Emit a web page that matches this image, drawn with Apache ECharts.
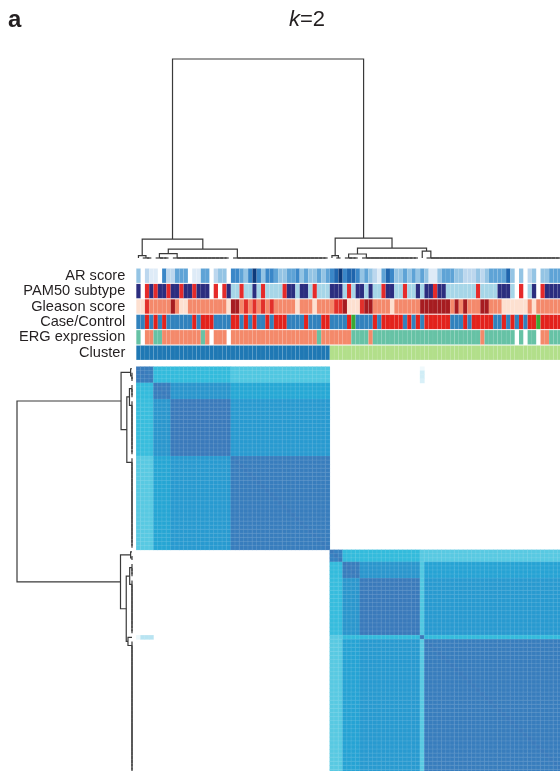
<!DOCTYPE html>
<html><head><meta charset="utf-8">
<script src="https://cdn.jsdelivr.net/npm/echarts@6/dist/echarts.min.js"></script>
<style>html,body{margin:0;padding:0;background:#fff;overflow:hidden}#c{width:600px;height:800px}</style>
</head><body><div id="c"></div>
<script>
// ---------------- DATA ----------------
const sampleCount = 100; // samples visible in the (cropped) panel
const trackNames = ['AR score','PAM50 subtype','Gleason score','Case/Control','ERG expression','Cluster'];

// AR score level (0 = missing/white ... 7 = highest)
const arScore = [
 3,0,2,1,1,0,5,2,2,4, 4,4,0,1,1,4,4,0,2,3, 3,0,5,5,4,3,5,7,5,3, 5,5,4,3,3,4,4,5,3,4,
 3,3,4,3,4,5,6,7,5,6, 6,5,3,4,3,2,1,4,6,5, 3,3,4,3,4,3,4,3,1,1, 3,4,4,4,3,3,2,2,2,3,
 2,3,4,4,4,4,6,3,0,3, 0,2,3,0,3,3,4,4,4,3];
// PAM50 subtype: 0 missing, 1 LumA (navy), 2 Basal (red), 3 LumB (light blue)
const pam50 = [
 1,0,2,1,2,1,1,2,1,1, 2,1,1,2,1,1,1,0,2,0, 2,1,3,3,2,3,3,1,3,2, 3,3,3,3,2,1,1,3,1,1,
 3,2,3,3,3,1,1,1,3,2, 3,1,1,3,1,3,3,2,1,1, 3,3,2,3,3,1,3,1,1,2, 1,1,3,3,3,3,3,3,3,2,
 3,3,3,3,1,1,1,3,0,2, 0,3,1,0,2,1,1,1,1,1];
// Gleason: 1 (<=6), 2 (7), 3 (8), 4 (>=9)
const gleason = [
 1,1,3,2,2,2,2,2,4,2, 1,1,2,2,2,2,2,2,2,2, 2,1,4,4,2,3,2,3,2,3, 2,3,2,2,2,2,2,1,2,2,
 2,1,2,2,2,2,3,3,4,1, 1,1,3,4,4,2,2,2,2,1, 2,2,2,2,2,2,4,4,4,4, 4,4,4,2,4,2,4,2,2,2,
 4,4,2,2,2,1,1,1,1,1, 1,2,1,2,2,2,2,2,2,2];
// Case/Control: 1 control (blue), 2 case (red), 3 other (green)
const caseControl = [
 1,1,2,1,2,1,2,1,1,1, 1,1,1,2,1,2,2,2,1,1, 1,1,2,2,1,2,1,2,1,1, 2,1,2,2,2,1,1,1,1,2,
 1,1,1,2,2,1,1,1,1,2, 3,1,1,1,1,2,1,2,2,2, 2,2,1,2,1,2,1,2,2,2, 2,2,2,1,1,1,2,1,2,2,
 2,2,2,1,1,2,1,2,1,2, 1,2,2,3,2,2,2,2,2,2];
// ERG: 0 missing, 1 negative (salmon), 2 positive (teal)
const ergExpression = [
 2,0,1,1,2,2,1,1,1,1, 1,1,1,1,1,2,1,0,1,1, 1,0,1,1,1,1,1,1,1,1, 1,1,1,1,1,1,1,1,1,1,
 1,1,2,1,1,1,1,1,1,1, 2,2,2,2,1,2,2,2,2,2, 2,2,2,2,2,2,2,2,2,2, 2,2,2,2,2,2,2,2,2,2,
 1,2,2,2,2,2,2,2,0,2, 0,2,2,0,1,1,2,2,2,2];
// Consensus cluster (k = 2)
const clusterOf = [
 1,1,1,1,1,1,1,1,1,1, 1,1,1,1,1,1,1,1,1,1, 1,1,1,1,1,1,1,1,1,1, 1,1,1,1,1,1,1,1,1,1,
 1,1,1,1,1,2,2,2,2,2, 2,2,2,2,2,2,2,2,2,2, 2,2,2,2,2,2,2,2,2,2, 2,2,2,2,2,2,2,2,2,2,
 2,2,2,2,2,2,2,2,2,2, 2,2,2,2,2,2,2,2,2,2];

// Consensus matrix: sub-groups (in sample order) and block consensus values (row group x column group)
const consensusGroupSizes = [4,4,14,23, 3,4,14,1,33];
const consensusBlocks = [
 [0.88,0.56,0.56,0.47, 0,0,0,0,0],
 [0.56,0.88,0.74,0.66, 0,0,0,0,0],
 [0.54,0.74,0.90,0.72, 0,0,0,0,0],
 [0.45,0.67,0.72,0.88, 0,0,0,0,0],
 [0,0,0,0, 0.85,0.56,0.56,0.45,0.45],
 [0,0,0,0, 0.56,0.88,0.74,0.47,0.68],
 [0,0,0,0, 0.55,0.74,0.90,0.47,0.72],
 [0,0,0,0, 0.45,0.56,0.56,0.92,0.56],
 [0,0,0,0, 0.45,0.68,0.72,0.45,0.88]
];
// individual off-block consensus cells: [row sample, column sample, value]
const consensusExtra = [[66,0,0.06],[66,1,0.2],[66,2,0.2],[66,3,0.2],[0,66,0.05],[1,66,0.14],[2,66,0.14],[3,66,0.12]];

// Hierarchical clustering tree (merge heights, 1 = root); flat = leaves merged at height 0
const dendroTree = {h:1, c:[
  {h:0.095, c:[
    {h:0.012, c:[0, {flat:[1,3]}]},
    {h:0.045, c:[
      {h:0.022, c:[{flat:[4,7]}, {flat:[8,21]}]},
      {flat:[22,44]}
    ]}
  ]},
  {h:0.1, c:[
    {h:0.012, c:[45, {flat:[46,47]}]},
    {h:0.05, c:[
      {h:0.02, c:[{flat:[48,51]}, {flat:[52,65]}]},
      {h:0.035, c:[66, {flat:[67,99]}]}
    ]}
  ]}
]};

// ---------------- BUILD ----------------
const palettes = [
  ['#ffffff','#deebf7','#bcd7ee','#94c4e4','#5ea3d6','#3a87c8','#1f65ad','#0d3a7a'],
  ['#ffffff','#2b2d7f','#e52a2a','#a6d6e8'],
  ['#ffffff','#fde0d0','#f4896b','#e2302a','#a61c20'],
  ['#ffffff','#3182bd','#e3221c','#3aa935'],
  ['#ffffff','#f4896a','#66c2a5'],
  ['#ffffff','#1f78b4','#b2df8a']
];
const tracks = [arScore, pam50, gleason, caseControl, ergExpression, clusterOf];
const samples = Array.from({length: sampleCount}, (_, i) => String(i));

const annotCells = [];
tracks.forEach((arr, t) => arr.forEach((code, i) => {
  if (code > 0) annotCells.push({value:[i, t, code], color: palettes[t][code]});
}));

const groupOf = [];
consensusGroupSizes.forEach((n, g) => { for (let k = 0; k < n; k++) groupOf.push(g); });
const extraMap = {};
consensusExtra.forEach(([r, c, v]) => { extraMap[r + '_' + c] = v; });
const heatData = [];
for (let r = 0; r < sampleCount; r++) {
  for (let c = 0; c < sampleCount; c++) {
    let v = consensusBlocks[groupOf[r]][groupOf[c]];
    if (extraMap[r + '_' + c] !== undefined) v = extraMap[r + '_' + c];
    if (r === c && v > 0) v = Math.max(v, 0.9);
    if (v > 0) heatData.push([c, r, v]);
  }
}

const links = [];
function layout(node) {
  if (typeof node === 'number') return {pos: node + 0.5, h: 0};
  if (node.flat) return flatLayout(node.flat[0], node.flat[1]);
  const k = node.c.map(layout);
  links.push([k[0].pos, k[0].h, k[1].pos, k[1].h, node.h]);
  return {pos: (k[0].pos + k[1].pos) / 2, h: node.h};
}
function flatLayout(a, b) {
  if (a === b) return {pos: a + 0.5, h: 0};
  const r = flatLayout(a + 1, b);
  links.push([a + 0.5, 0, r.pos, r.h, 0]);
  return {pos: (a + 0.5 + r.pos) / 2, h: 0};
}
layout(dendroTree);

const lineColor = '#3a3a3a';
function dendroRender(transpose) {
  return function (params, api) {
    const x1 = api.value(0), h1 = api.value(1), x2 = api.value(2), h2 = api.value(3), h = api.value(4);
    const P = (x, y) => transpose ? api.coord([y, x]) : api.coord([x, y]);
    return {type:'polyline', shape:{points:[P(x1,h1), P(x1,h), P(x2,h), P(x2,h2)]},
      style:{stroke: lineColor, lineWidth: 1.2, fill: 'none'}};
  };
}

const G = {left: 136.3, w: 430, top: 366.7, h: 407};
const chart = echarts.init(document.getElementById('c'), null, {renderer: 'canvas'});
chart.setOption({
  animation: false,
  backgroundColor: '#ffffff',
  grid: [
    {left: G.left, top: 59, width: G.w, height: 199},
    {left: 17, top: G.top, width: 115, height: G.h},
    {left: G.left, top: 268, width: G.w, height: 92.4},
    {left: G.left, top: G.top, width: G.w, height: G.h}
  ],
  xAxis: [
    {gridIndex: 0, type: 'value', min: 0, max: sampleCount, show: false},
    {gridIndex: 1, type: 'value', min: 0, max: 1, inverse: true, show: false},
    {gridIndex: 2, type: 'category', data: samples, show: false},
    {gridIndex: 3, type: 'category', data: samples, show: false}
  ],
  yAxis: [
    {gridIndex: 0, type: 'value', min: 0, max: 1, show: false},
    {gridIndex: 1, type: 'value', min: 0, max: sampleCount, inverse: true, show: false},
    {gridIndex: 2, type: 'category', data: trackNames, inverse: true,
     axisLine: {show: false}, axisTick: {show: false}, splitLine: {show: false},
     axisLabel: {show: true, interval: 0, margin: 11, fontSize: 14.6, fontFamily: '"Liberation Sans", Arial, sans-serif', color: '#231f20'}},
    {gridIndex: 3, type: 'category', data: samples, inverse: true, show: false}
  ],
  visualMap: [{
    type: 'continuous', min: 0, max: 1, show: false, seriesIndex: 3, dimension: 2,
    inRange: {color: ['#ffffff','#e0f3f9','#b8e4f2','#95d9ec','#6ccfe4','#44c3df','#27b5da','#269fd2','#2f88c6','#3a7abb','#3d74b6']}
  }],
  series: [
    {type: 'custom', xAxisIndex: 0, yAxisIndex: 0, data: links, renderItem: dendroRender(false), clip: false, silent: true},
    {type: 'custom', xAxisIndex: 1, yAxisIndex: 1, data: links, renderItem: dendroRender(true), clip: false, silent: true},
    {type: 'custom', xAxisIndex: 2, yAxisIndex: 2, data: annotCells, silent: true,
     renderItem: function (params, api) {
       const c = api.coord([api.value(0), api.value(1)]);
       const s = api.size([1, 1]);
       return {type: 'rect', shape: {x: c[0] - s[0] / 2, y: c[1] - s[1] / 2 + 0.5, width: s[0], height: s[1] - 1},
         style: {fill: annotCells[params.dataIndex].color, stroke: 'rgba(255,255,255,0.12)', lineWidth: 0.4}};
     }},
    {type: 'heatmap', xAxisIndex: 3, yAxisIndex: 3, data: heatData, progressive: 0, silent: true,
     itemStyle: {borderColor: 'rgba(255,255,255,0.16)', borderWidth: 0.6}}
  ],
  graphic: [
    {type: 'text', x: 8, y: 20, silent: true,
     style: {text: 'a', font: 'bold 24px "Liberation Sans", Arial, sans-serif', fill: '#231f20', align: 'left', verticalAlign: 'middle'}},
    {type: 'text', x: 289, y: 19.5, silent: true,
     style: {text: '{k|k}=2', font: '22px "Liberation Sans", Arial, sans-serif', fill: '#231f20', align: 'left', verticalAlign: 'middle',
       rich: {k: {fontStyle: 'italic', fontSize: 22, fontFamily: '"Liberation Sans", Arial, sans-serif', fill: '#231f20'}}}}
  ]
});
</script>
</body></html>
